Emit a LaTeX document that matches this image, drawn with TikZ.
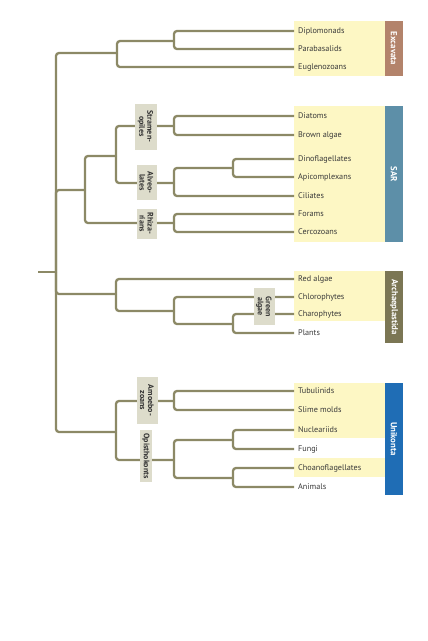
\documentclass[tikz,border=0pt]{standalone}
\usepackage{fontspec}
\setmainfont{PT Sans}
\definecolor{treeline}{HTML}{8C8966}
\definecolor{labfill}{HTML}{DDDCCB}
\definecolor{yel}{HTML}{FDF7C4}
\definecolor{exc}{HTML}{B3836B}
\definecolor{sar}{HTML}{5D8FA8}
\definecolor{arc}{HTML}{7B7654}
\definecolor{uni}{HTML}{1F6DB5}
\definecolor{leaftxt}{HTML}{3A3A3A}
\tikzset{
  edge/.style={draw=treeline, line width=2.3pt, rounded corners=3pt},
  leaf/.style={anchor=west, inner xsep=4pt, inner ysep=0pt, text=leaftxt, font=\fontsize{8.2}{9}\selectfont},
  cladelab/.style={fill=labfill, rotate=-90, align=center, inner xsep=1.5pt, inner ysep=1.5pt, text=black!80, font=\bfseries\fontsize{8}{8}\selectfont},
  bar/.style={rotate=-90, inner sep=0pt, minimum height=18pt, text=white, font=\bfseries\fontsize{8.8}{9}\selectfont}
}
\begin{document}
\begin{tikzpicture}[x=1pt,y=-1pt]
\useasboundingbox[fill=white] (0,0) rectangle (428,641);
% yellow boxes
\fill[yel] (294,21) rectangle (385,76);
\fill[yel] (294,106) rectangle (385,242);
\fill[yel] (294,271) rectangle (385,321);
\fill[yel] (294,383) rectangle (385,438);
\fill[yel] (294,458) rectangle (385,477);
% bars
\node[bar, fill=exc, minimum width=55pt] (bexc) at (394,48.5) {Excavata};
\node[bar, fill=sar, minimum width=136pt] (bsar) at (394,174) {SAR};
\node[bar, fill=arc, minimum width=72pt] (barc) at (394,307) {Archaeplastida};
\node[bar, fill=uni, minimum width=112pt] (buni) at (394,439) {Unikonta};
% leaves
\node[leaf] (l1) at (294,31) {Diplomonads};
\node[leaf] (l2) at (294,49) {Parabasalids};
\node[leaf] (l3) at (294,67) {Euglenozoans};
\node[leaf] (l4) at (294,116) {Diatoms};
\node[leaf] (l5) at (294,135) {Brown algae};
\node[leaf] (l6) at (294,159) {Dinoflagellates};
\node[leaf] (l7) at (294,177) {Apicomplexans};
\node[leaf] (l8) at (294,196) {Ciliates};
\node[leaf] (l9) at (294,214) {Forams};
\node[leaf] (l10) at (294,232) {Cercozoans};
\node[leaf] (l11) at (294,279) {Red algae};
\node[leaf] (l12) at (294,297) {Chlorophytes};
\node[leaf] (l13) at (294,314) {Charophytes};
\node[leaf] (l14) at (294,333) {Plants};
\node[leaf] (l15) at (294,391) {Tubulinids};
\node[leaf] (l16) at (294,410) {Slime molds};
\node[leaf] (l17) at (294,430) {Nucleariids};
\node[leaf] (l18) at (294,449) {Fungi};
\node[leaf] (l19) at (294,468) {Choanoflagellates};
\node[leaf] (l20) at (294,487) {Animals};
% internal nodes
\coordinate (stub) at (38,272);
\coordinate (R) at (56,272);
\coordinate (Ex) at (117,53);
\coordinate (DP) at (174,41);
\coordinate (SARn) at (85,190);
\coordinate (SR) at (116,156);
\coordinate (St) at (174,126);
\coordinate (Al) at (174,183);
\coordinate (DA) at (233,168);
\coordinate (Rh) at (174,223);
\coordinate (Ar) at (116,294);
\coordinate (GA) at (174,311);
\coordinate (CP) at (233,324);
\coordinate (Un) at (116,432);
\coordinate (Am) at (174,401);
\coordinate (Op) at (174,460);
\coordinate (NF) at (233,440);
\coordinate (CA) at (233,478);
% edges
\draw[edge] (stub) -- (R);
\draw[edge] (R) |- (Ex);
\draw[edge] (R) |- (SARn);
\draw[edge] (R) |- (Ar);
\draw[edge] (R) |- (Un);
\draw[edge] (Ex) |- (DP);
\draw[edge] (Ex) |- (l3.west);
\draw[edge] (DP) |- (l1.west);
\draw[edge] (DP) |- (l2.west);
\draw[edge] (SARn) |- (SR);
\draw[edge] (SARn) |- (Rh);
\draw[edge] (SR) |- (St);
\draw[edge] (SR) |- (Al);
\draw[edge] (St) |- (l4.west);
\draw[edge] (St) |- (l5.west);
\draw[edge] (Al) |- (DA);
\draw[edge] (Al) |- (l8.west);
\draw[edge] (DA) |- (l6.west);
\draw[edge] (DA) |- (l7.west);
\draw[edge] (Rh) |- (l9.west);
\draw[edge] (Rh) |- (l10.west);
\draw[edge] (Ar) |- (l11.west);
\draw[edge] (Ar) |- (GA);
\draw[edge] (GA) |- (l12.west);
\draw[edge] (GA) |- (CP);
\draw[edge] (CP) |- (l13.west);
\draw[edge] (CP) |- (l14.west);
\draw[edge] (Un) |- (Am);
\draw[edge] (Un) |- (Op);
\draw[edge] (Am) |- (l15.west);
\draw[edge] (Am) |- (l16.west);
\draw[edge] (Op) |- (NF);
\draw[edge] (Op) |- (CA);
\draw[edge] (NF) |- (l17.west);
\draw[edge] (NF) |- (l18.west);
\draw[edge] (CA) |- (l19.west);
\draw[edge] (CA) |- (l20.west);
% clade labels
\node[cladelab, minimum width=46pt, minimum height=22pt] (cstr) at (145.5,126.5) {Stramen-\\opiles};
\node[cladelab, minimum width=35pt, minimum height=20pt] (calv) at (146.5,182.5) {Alveo-\\lates};
\node[cladelab, minimum width=30pt, minimum height=20pt] (crhi) at (146.5,223.5) {Rhiza-\\rians};
\node[cladelab, minimum width=37pt, minimum height=21pt] (cgre) at (264,306.5) {Green\\algae};
\node[cladelab, minimum width=47pt, minimum height=21pt] (camo) at (147,400.5) {Amoebo-\\zoans};
\node[cladelab, minimum width=52pt, minimum height=11.5pt, inner ysep=0.3pt] (copi) at (146,456) {Opisthokonts};
\end{tikzpicture}
\end{document}
